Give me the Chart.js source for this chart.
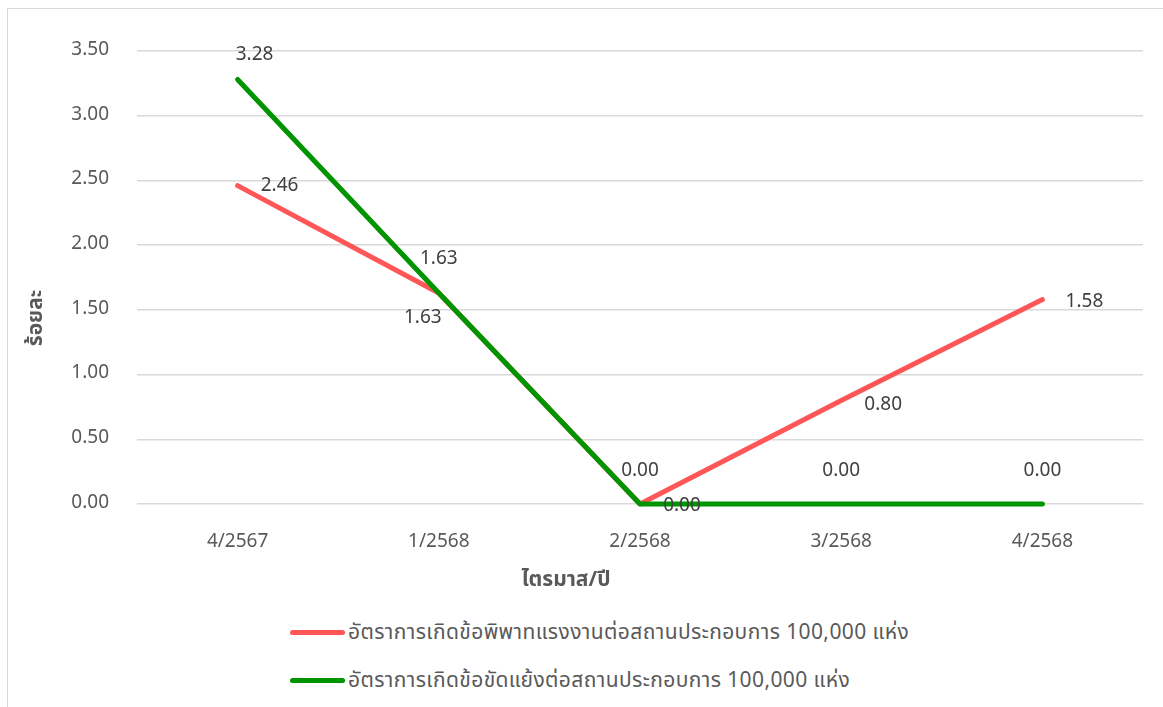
<!DOCTYPE html>
<html>
<head>
<meta charset="utf-8">
<script src="https://cdn.jsdelivr.net/npm/chart.js@4.4.1/dist/chart.umd.min.js"></script>
<style>
  html, body { margin: 0; padding: 0; background: #fff; overflow: hidden; }
  #frame { position: absolute; left: 7px; top: 8px; width: 1400px; height: 900px; border: 1px solid #d9d9d9; }
  #chart { position: absolute; left: 0; top: 0; }
  #legend { position: absolute; left: 290px; top: 616px; font-family: 'Noto Sans Thai', 'Noto Sans', 'Open Sans', sans-serif; font-size: 21px; letter-spacing: 0.4px; color: #595959; }
  #legend .item { display: flex; align-items: center; height: 32px; margin-bottom: 16px; white-space: nowrap; }
  #legend .swatch { width: 55px; height: 5px; border-radius: 3px; margin-right: 3px; }
</style>
</head>
<body>
<div id="frame"></div>
<canvas id="chart" width="1163" height="610"></canvas>
<div id="legend"></div>
<script>
// quarters (x axis)
const quarters = ['4/2567', '1/2568', '2/2568', '3/2568', '4/2568'];
// series values, per cent
const disputeRate = [2.46, 1.63, 0.00, 0.80, 1.58];
const conflictRate = [3.28, 1.63, 0.00, 0.00, 0.00];
const disputeName = 'อัตราการเกิดข้อพิพาทแรงงานต่อสถานประกอบการ 100,000 แห่ง';
const conflictName = 'อัตราการเกิดข้อขัดแย้งต่อสถานประกอบการ 100,000 แห่ง';
const xTitle = 'ไตรมาส/ปี';
const yTitle = 'ร้อยละ';
const yMin = 0, yMax = 3.5, yStep = 0.5;

const FONT = "'Noto Sans Thai', 'Noto Sans', 'Open Sans', sans-serif";
const GREY = '#595959';

// draws the value next to each point
const valueLabels = {
  id: 'valueLabels',
  afterDatasetsDraw(chart) {
    const ctx = chart.ctx;
    ctx.save();
    ctx.font = '19px ' + FONT;
    ctx.fillStyle = '#404040';
    ctx.textAlign = 'center';
    ctx.textBaseline = 'middle';
    chart.data.datasets.forEach((ds, i) => {
      const meta = chart.getDatasetMeta(i);
      meta.data.forEach((pt, j) => {
        const off = ds.labelOffsets[j];
        ctx.fillText(ds.data[j].toFixed(2), pt.x + off[0], pt.y + off[1]);
      });
    });
    ctx.restore();
  }
};

// axis titles sit off-centre in the original, so draw them here
const axisTitles = {
  id: 'axisTitles',
  afterDraw(chart) {
    const ctx = chart.ctx;
    ctx.save();
    ctx.font = 'bold 21px ' + FONT;
    ctx.fillStyle = GREY;
    ctx.textAlign = 'center';
    ctx.textBaseline = 'middle';
    ctx.fillText(xTitle, 566, 582);
    ctx.translate(38, 318);
    ctx.rotate(-Math.PI / 2);
    ctx.fillText(yTitle, 0, 0);
    ctx.restore();
  }
};

const chart = new Chart(document.getElementById('chart'), {
  type: 'line',
  data: {
    labels: quarters,
    datasets: [
      {
        label: disputeName,
        data: disputeRate,
        borderColor: '#ff5757',
        backgroundColor: '#ff5757',
        order: 1,
        clip: false,
        labelOffsets: [[42, 2], [-16, 26], [42, 3], [42, 6], [42, 4]]
      },
      {
        label: conflictName,
        data: conflictRate,
        borderColor: '#009400',
        backgroundColor: '#009400',
        order: 0,
        clip: false,
        labelOffsets: [[17, -23], [0, -33], [0, -32], [0, -32], [0, -32]]
      }
    ]
  },
  options: {
    responsive: false,
    animation: false,
    devicePixelRatio: 1,
    layout: { padding: { top: 51, right: 20, bottom: 0, left: 0 } },
    elements: {
      line: { borderWidth: 5, tension: 0, borderCapStyle: 'round', borderJoinStyle: 'round', fill: false },
      point: { radius: 0, hoverRadius: 0 }
    },
    plugins: {
      legend: { display: false },
      tooltip: { enabled: false }
    },
    scales: {
      x: {
        offset: true,
        grid: { display: false, drawTicks: false },
        border: { display: false },
        ticks: { color: GREY, font: { family: FONT, size: 19 }, padding: 28 },
        afterFit(scale) { scale.height = 106; }
      },
      y: {
        min: yMin,
        max: yMax,
        grid: { color: '#d9d9d9', lineWidth: 1.5, drawTicks: false },
        border: { display: false },
        ticks: {
          stepSize: yStep,
          color: GREY,
          font: { family: FONT, size: 19 },
          padding: 28,
          callback: v => v.toFixed(2)
        },
        afterFit(scale) { scale.width = 137; }
      }
    }
  },
  plugins: [valueLabels, axisTitles]
});

// legend in rows, left aligned like the original
const legendBox = document.getElementById('legend');
chart.data.datasets.forEach(ds => {
  const item = document.createElement('div');
  item.className = 'item';
  const sw = document.createElement('span');
  sw.className = 'swatch';
  sw.style.background = ds.borderColor;
  const txt = document.createElement('span');
  txt.textContent = ds.label;
  item.appendChild(sw);
  item.appendChild(txt);
  legendBox.appendChild(item);
});
</script>
</body>
</html>
